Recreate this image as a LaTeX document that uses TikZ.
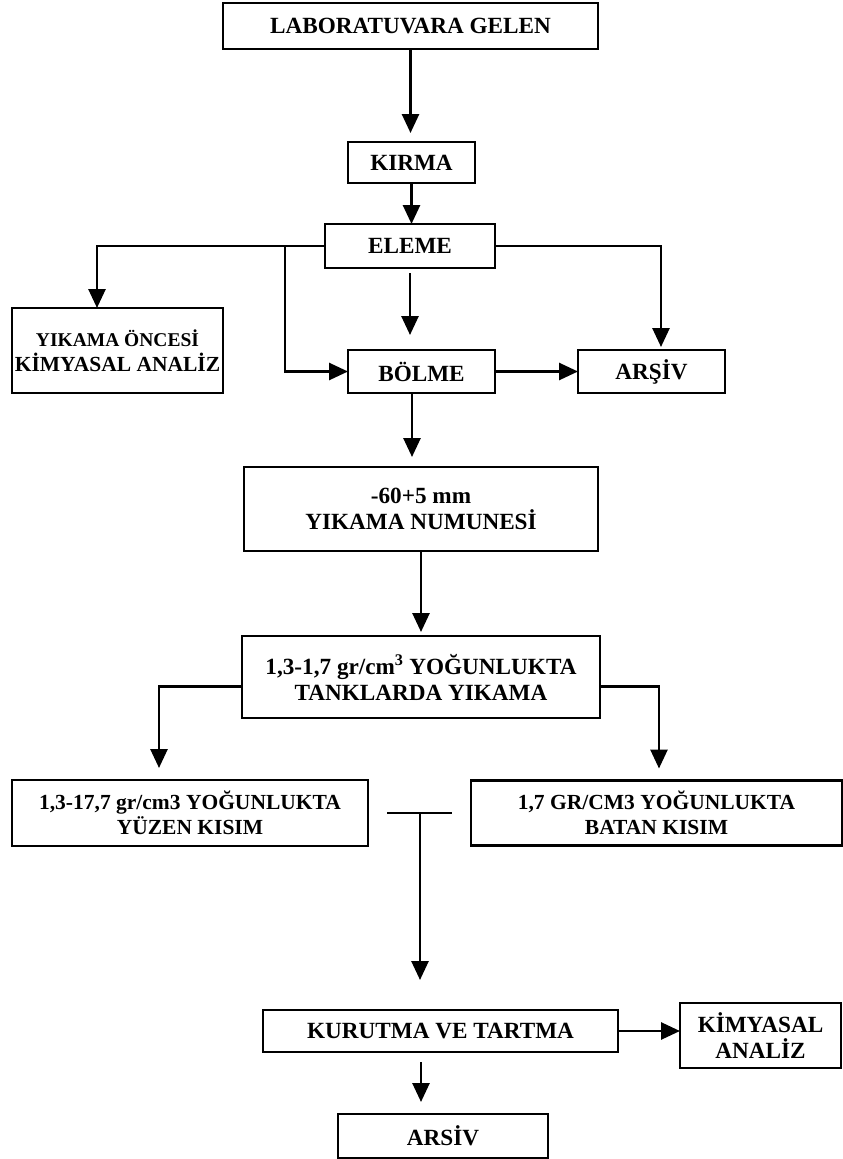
\documentclass[tikz,border=0pt]{standalone}
\usepackage{fontspec}
\setmainfont{Liberation Serif}
\usetikzlibrary{positioning, arrows.meta}

\begin{document}
\begin{tikzpicture}[
    x=1pt, y=1pt,
    flowbox/.style={rectangle, draw=black, line width=2.7pt, outer sep=0pt, inner sep=2pt, align=center, font=\bfseries\fontsize{23.2}{26}\selectfont},
    smallbox/.style={flowbox, font=\bfseries\fontsize{21.5}{25}\selectfont},
    flowarrow/.style={line width=2.7pt, -{Triangle[width=17pt,length=19pt]}},
]
\useasboundingbox (0,0) rectangle (843,-1159);
\node[flowbox, minimum width=375pt, minimum height=46pt](lab) at (410.5,-26){LABORATUVARA GELEN};
\node[flowbox, minimum width=127pt, minimum height=41pt](kirma)[below = 93pt of lab, xshift=1pt]{KIRMA};
\node[flowbox, minimum width=170pt, minimum height=44pt](eleme)[below = 41pt of kirma, xshift=-1.5pt]{ELEME};
\node[flowbox, minimum width=147pt, minimum height=43pt](bolme)[below = 82pt of eleme, xshift=11.5pt]{BÖLME};
\node[flowbox, minimum width=147pt, minimum height=43pt](arsiv1)[right = 83pt of bolme]{ARŞİV};
\node[smallbox, minimum width=211pt, minimum height=85pt](oncesi)[left = 125pt of bolme, yshift=21pt]{{\fontsize{19.5}{25}\selectfont YIKAMA ÖNCESİ}\\KİMYASAL ANALİZ};
\node[flowbox, minimum width=354pt, minimum height=84pt](numune)[below = 74pt of bolme, xshift=-0.5pt]{-60+5 mm\\YIKAMA NUMUNESİ};
\node[flowbox, minimum width=358pt, minimum height=82pt](tank)[below = 85pt of numune]{1,3-1,7 gr/cm\textsuperscript{3} YOĞUNLUKTA\\TANKLARDA YIKAMA};
\node[smallbox, minimum width=356pt, minimum height=66pt](yuzen)[below = 62pt of tank, xshift=-231pt]{1,3-17,7 gr/cm3 YOĞUNLUKTA\\YÜZEN KISIM};
\node[smallbox, minimum width=371pt, minimum height=65pt](batan)[right = 103pt of yuzen]{1,7 GR/CM3 YOĞUNLUKTA\\BATAN KISIM};
\coordinate (tee) at (420,-813);
\node[flowbox, minimum width=355pt, minimum height=42pt](kurutma)[below = 197pt of tee, xshift=20.5pt]{KURUTMA VE TARTMA};
\node[flowbox, minimum width=161pt, minimum height=65pt](kimya)[right = 62pt of kurutma, yshift=-4.5pt]{KİMYASAL\\ANALİZ};
\node[flowbox, minimum width=210pt, minimum height=44pt](arsiv2)[below = 62pt of kurutma, xshift=2.5pt]{ARSİV};

\draw[flowarrow, shorten >=9pt] (lab.south) -- (lab.south |- kirma.north);
\draw[flowarrow] (kirma.south) -- (kirma.south |- eleme.north);
\draw[flowarrow] (eleme.west) -| ([xshift=-20.5pt]oncesi.north);
\draw[flowarrow] ([xshift=-40pt]eleme.west) |- (bolme.west);
\draw[flowarrow, shorten <=5pt, shorten >=15pt] (eleme.south) -- (eleme.south |- bolme.north);
\draw[flowarrow, shorten >=3pt] (eleme.east) -| ([xshift=9.5pt]arsiv1.north);
\draw[flowarrow] (bolme.east) -- (arsiv1.west);
\draw[flowarrow, shorten >=10pt] ([xshift=-9.5pt]bolme.south) -- ([xshift=-9.5pt]bolme.south |- numune.north);
\draw[flowarrow, shorten >=4pt] (numune.south) -- (tank.north);
\draw[flowarrow, shorten >=12pt] ([yshift=-9.5pt]tank.west) -| ([xshift=-31pt]yuzen.north);
\draw[flowarrow, shorten >=12pt] ([yshift=-9.5pt]tank.east) -| ([xshift=2.5pt]batan.north);
\draw[line width=2.7pt] ([xshift=-33pt]tee) -- ([xshift=32pt]tee);
\draw[flowarrow, shorten >=30pt] (tee) -- (tee |- kurutma.north);
\draw[flowarrow] (kurutma.east) -- (kurutma.east -| kimya.west);
\draw[flowarrow, shorten <=10pt, shorten >=12pt] ([xshift=-19.5pt]kurutma.south) -- ([xshift=-19.5pt]kurutma.south |- arsiv2.north);
\end{tikzpicture}
\end{document}
